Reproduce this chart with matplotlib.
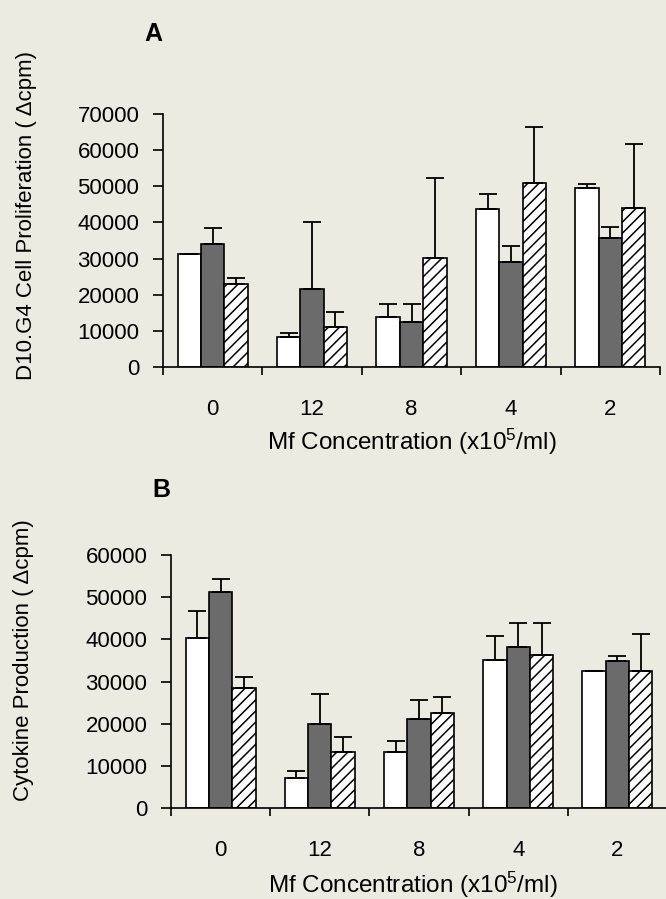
import matplotlib
matplotlib.use("Agg")
import matplotlib.pyplot as plt
import numpy as np

# Mf concentration groups (x10^5/ml), in plotted order
groups = ["0", "12", "8", "4", "2"]

# Panel A: D10.G4 cell proliferation (delta cpm), upper SEM
a_open = [31300, 8200, 13800, 43700, 49500]
a_open_err = [0, 1300, 3600, 4200, 1200]
a_dark = [34000, 21600, 12400, 29000, 35800]
a_dark_err = [4400, 18600, 5000, 4500, 2800]
a_hatch = [23100, 11000, 30200, 50900, 44000]
a_hatch_err = [1400, 4200, 22200, 15400, 17700]

# Panel B: cytokine production (delta cpm), upper SEM
b_open = [40300, 7100, 13200, 35200, 32400]
b_open_err = [6400, 1700, 2800, 5500, 0]
b_dark = [51200, 20000, 21100, 38200, 34900]
b_dark_err = [3000, 7000, 4600, 5700, 1200]
b_hatch = [28400, 13200, 22500, 36200, 32400]
b_hatch_err = [2600, 3600, 3800, 7700, 8900]

BG = "#ecebe2"
FONT = ["Liberation Sans", "DejaVu Sans"]
plt.rcParams["font.family"] = FONT
plt.rcParams["mathtext.default"] = "regular"
plt.rcParams["hatch.linewidth"] = 1.1
plt.rcParams["hatch.color"] = "black"

FS = 16
W, H = 666, 899
fig = plt.figure(figsize=(W / 100, H / 100), dpi=100)
fig.patch.set_facecolor(BG)


def draw_panel(ax, series, errs, ymax, ylabel, letter, letter_y, ylab_pos, xlab_pos):
    x = np.arange(len(groups)) + 0.5
    w = 0.235
    styles = [
        dict(color="white", hatch=None),
        dict(color="#6b6b6b", hatch=None),
        dict(color="white", hatch="///"),
    ]
    for i, (vals, st) in enumerate(zip(series, styles)):
        ax.bar(x + (i - 1) * w, vals, width=w, color=st["color"],
               edgecolor="black", linewidth=1.2, hatch=st["hatch"], zorder=2)
    for i, (vals, err) in enumerate(zip(series, errs)):
        ax.errorbar(x + (i - 1) * w, vals, yerr=[np.zeros(len(err)), err],
                    fmt="none", ecolor="black", elinewidth=1.3,
                    capsize=6.5, capthick=1.3, zorder=3)

    ax.set_facecolor(BG)
    ax.set_xlim(0, 5)
    ax.set_ylim(0, ymax)
    for s in ["top", "right"]:
        ax.spines[s].set_visible(False)
    for s in ["left", "bottom"]:
        ax.spines[s].set_linewidth(1.2)

    ax.set_yticks(np.arange(0, ymax + 1, 10000))
    ax.set_yticklabels([str(v) for v in range(0, ymax + 1, 10000)])
    ax.tick_params(axis="y", direction="out", length=7, width=1.2,
                   pad=10, labelsize=FS)
    ax.set_xticks(np.arange(0, 6))
    ax.set_xticklabels([])
    ax.tick_params(axis="x", which="major", direction="out", length=6, width=1.2)
    ax.set_xticks(x, minor=True)
    ax.set_xticklabels(groups, minor=True)
    ax.tick_params(axis="x", which="minor", length=0, pad=23, labelsize=FS)

    ax.set_xlabel("Mf Concentration (x10$^5$/ml)", fontsize=17.5)
    ax.xaxis.set_label_coords(*xlab_pos)
    ax.xaxis.label.set_va("center")
    ax.set_ylabel(ylabel, fontsize=FS)
    ax.yaxis.set_label_coords(*ylab_pos)
    ax.yaxis.label.set_va("center")
    ax.text(-0.02, letter_y, letter, transform=ax.transAxes, fontsize=18,
            fontweight="bold", ha="center", va="center")


axA = fig.add_axes([163 / W, 1 - 367 / H, 497 / W, 253 / H])
draw_panel(axA, [a_open, a_dark, a_hatch], [a_open_err, a_dark_err, a_hatch_err],
           70000, "D10.G4 Cell Proliferation ( \u0394cpm)", "A", 1.315,
           (-0.274, 0.597), (0.50, -0.296))

axB = fig.add_axes([171 / W, 1 - 808 / H, 496 / W, 253 / H])
draw_panel(axB, [b_open, b_dark, b_hatch], [b_open_err, b_dark_err, b_hatch_err],
           60000, "Cytokine Production ( \u0394cpm)", "B", 1.257,
           (-0.298, 0.585), (0.488, -0.303))

fig.savefig("out.png", dpi=100, facecolor=BG)
